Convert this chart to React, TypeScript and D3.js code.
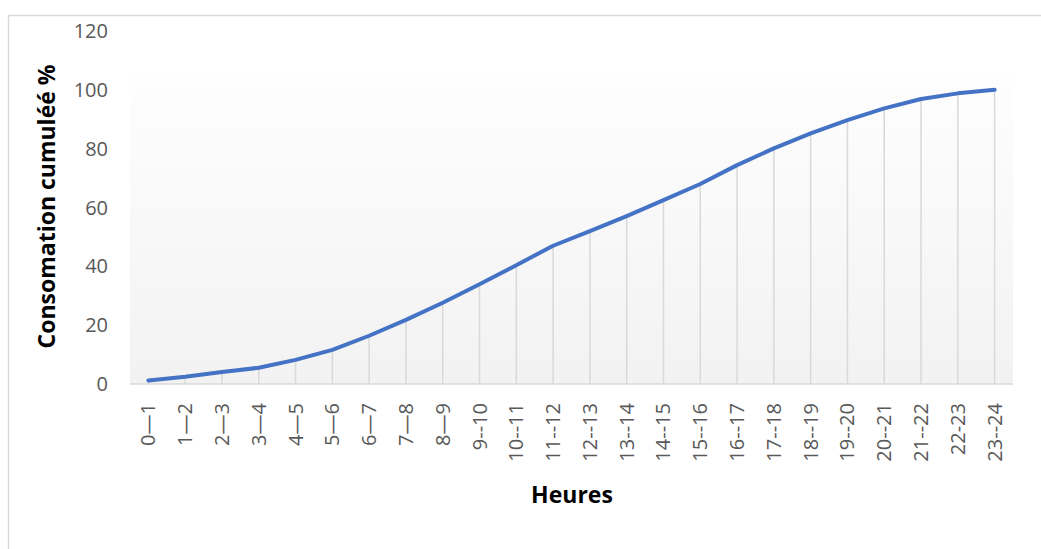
import React from "react";
import * as d3 from "d3";

// Hour intervals on the x axis
const hours = [
  "0—1", "1—2", "2—3", "3—4", "4—5", "5—6", "6—7", "7—8", "8—9",
  "9--10", "10--11", "11--12", "12--13", "13--14", "14--15", "15--16",
  "16--17", "17--18", "18--19", "19--20", "20--21", "21--22", "22-23", "23--24",
];

// Cumulative consumption (%) at the end of each interval
const cumulative = [
  1.2, 2.5, 4.1, 5.5, 8.2, 11.6, 16.4, 21.8, 27.6, 33.9, 40.4, 47.0,
  52.0, 57.1, 62.5, 68.0, 74.4, 80.1, 85.2, 89.7, 93.7, 96.9, 98.8, 100,
];

const yTicks = [0, 20, 40, 60, 80, 100, 120];

const W = 1041;
const H = 549;
const plot = { left: 130, right: 1013, top: 31, bottom: 384, fillTop: 75 };
const textGray = "#595959";
const gridGray = "#d9d9d9";
const lineBlue = "#4472C4";
const font = "'Open Sans', 'Liberation Sans', sans-serif";

export default function App() {
  const x = d3
    .scaleBand<string>()
    .domain(hours)
    .range([plot.left, plot.right])
    .paddingInner(0)
    .paddingOuter(0);
  const y = d3.scaleLinear().domain([0, 120]).range([plot.bottom, plot.top]);
  const cx = (h: string) => (x(h) ?? 0) + x.bandwidth() / 2;

  const line = d3
    .line<number>()
    .x((_, i) => cx(hours[i]))
    .y((d) => y(d))
    .curve(d3.curveLinear);

  return (
    <svg
      width={W}
      height={H}
      style={{ position: "absolute", left: 0, top: 0, background: "#fff" }}
      fontFamily={font}
    >
      <defs>
        <linearGradient id="plotFill" x1="0" y1="0" x2="0" y2="1">
          <stop offset="0%" stopColor="#fefefe" />
          <stop offset="100%" stopColor="#f2f2f2" />
        </linearGradient>
      </defs>

      {/* chart frame */}
      <line x1={8.5} y1={15.5} x2={W} y2={15.5} stroke={gridGray} strokeWidth={1.5} />
      <line x1={8.5} y1={15.5} x2={8.5} y2={H} stroke={gridGray} strokeWidth={1.5} />

      {/* plot area background */}
      <rect
        x={plot.left}
        y={plot.fillTop}
        width={plot.right - plot.left}
        height={plot.bottom - plot.fillTop}
        fill="url(#plotFill)"
      />

      {/* drop lines */}
      {cumulative.map((v, i) => (
        <line
          key={"d" + i}
          x1={cx(hours[i])}
          x2={cx(hours[i])}
          y1={y(v)}
          y2={plot.bottom}
          stroke={gridGray}
          strokeWidth={1.5}
        />
      ))}

      {/* x axis line */}
      <line
        x1={plot.left}
        x2={plot.right}
        y1={plot.bottom}
        y2={plot.bottom}
        stroke={gridGray}
        strokeWidth={1.5}
      />

      {/* y tick labels */}
      {yTicks.map((t) => (
        <text
          key={"y" + t}
          x={108}
          y={y(t)}
          dy="0.35em"
          textAnchor="end"
          fontSize={20}
          fill={textGray}
        >
          {t}
        </text>
      ))}

      {/* x tick labels */}
      {hours.map((h) => (
        <text
          key={"x" + h}
          transform={`translate(${cx(h)},${plot.bottom + 19}) rotate(-90)`}
          dy="0.35em"
          textAnchor="end"
          fontSize={20}
          fill={textGray}
        >
          {h}
        </text>
      ))}

      {/* series */}
      <path
        d={line(cumulative) ?? ""}
        fill="none"
        stroke={lineBlue}
        strokeWidth={4}
        strokeLinejoin="round"
        strokeLinecap="round"
      />

      {/* axis titles */}
      <text
        x={572}
        y={503}
        textAnchor="middle"
        fontSize={23}
        fontWeight="bold"
        fill="#000"
      >
        Heures
      </text>
      <text
        transform={`translate(47,${(63 + 350) / 2}) rotate(-90)`}
        textAnchor="middle"
        dy="0.35em"
        fontSize={23}
        fontWeight="bold"
        fill="#000"
      >
        Consomation cumuléé %
      </text>
    </svg>
  );
}
